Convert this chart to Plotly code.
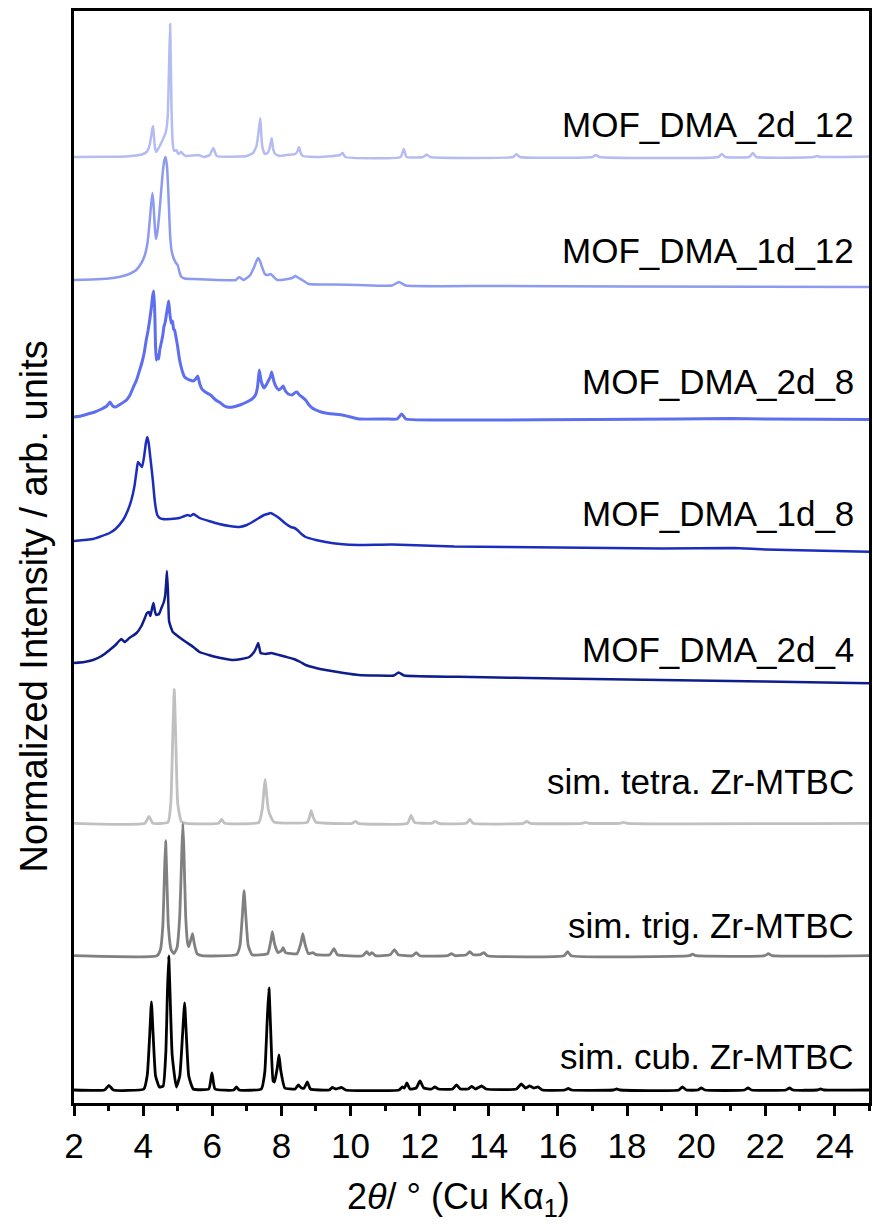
import plotly.graph_objects as go

# (2θ in degrees, intensity in arb. units above the pattern's own zero)
pat_2d_12 = [
    (2.0, 0), (3.0, 0.3), (3.5, 0.5), (3.8, 1.5), (4.0, 3), (4.1, 5), (4.15, 8),
    (4.20, 14), (4.23, 20), (4.26, 27), (4.29, 31), (4.31, 22), (4.34, 10),
    (4.38, 5), (4.45, 9), (4.55, 16), (4.65, 24), (4.71, 40), (4.75, 90),
    (4.78, 133), (4.80, 95), (4.82, 50), (4.86, 12), (4.90, 6), (4.96, 7),
    (5.02, 3), (5.10, 5), (5.18, 2), (5.25, 1), (5.60, 2), (5.75, 0),
    (5.93, 2), (6.03, 9), (6.13, 1), (6.80, 0.5), (7.00, 1), (7.18, 4),
    (7.28, 11), (7.34, 25), (7.39, 39), (7.42, 22), (7.45, 10), (7.52, 3),
    (7.60, 4), (7.66, 9), (7.72, 19), (7.76, 8), (7.82, 3), (7.95, 1),
    (8.15, 2), (8.40, 3), (8.47, 6), (8.51, 10), (8.56, 4), (8.62, 1),
    (9.10, 0), (9.70, 2), (9.77, 4), (9.85, 0), (11.45, 0), (11.54, 8),
    (11.62, 0), (12.10, 0), (12.20, 2.5), (12.30, 0), (14.70, 0), (14.80, 3),
    (14.90, 0), (17.00, 0), (17.10, 2), (17.20, 0), (20.64, 0), (20.74, 3),
    (20.84, 0), (21.54, 0), (21.64, 4), (21.74, 0), (23.40, 0), (23.50, 1),
    (23.60, 0), (25.0, 0.5),
]

pat_1d_12 = [
    (2.0, 0), (2.5, 0.5), (3.0, 1.5), (3.3, 3), (3.6, 6), (3.8, 10),
    (3.95, 17), (4.05, 25), (4.13, 38), (4.18, 55), (4.23, 75), (4.27, 87),
    (4.30, 76), (4.34, 52), (4.37, 41), (4.42, 50), (4.47, 67), (4.52, 88),
    (4.56, 105), (4.61, 119), (4.65, 123), (4.69, 114), (4.72, 95),
    (4.75, 70), (4.78, 45), (4.82, 30), (4.88, 22), (4.95, 17), (5.00, 15),
    (5.05, 8), (5.11, 3), (5.20, 1.5), (5.43, 1), (6.68, 0), (6.78, 3),
    (6.90, 0), (7.00, 2), (7.10, 5), (7.20, 12), (7.28, 19), (7.33, 22),
    (7.38, 19), (7.45, 12), (7.52, 6), (7.60, 5), (7.69, 6), (7.78, 3),
    (7.88, 0), (8.10, 0.5), (8.31, 2), (8.41, 4), (8.50, 2), (8.60, 0),
    (8.79, -4), (9.5, -4.5), (10.24, -5), (11.20, -5.5), (11.40, -2),
    (11.60, -5.5), (14.0, -6), (18.0, -6.5), (25.0, -7),
]

pat_2d_8 = [
    (2.0, 0), (2.2, 1), (2.4, 3), (2.6, 5), (2.8, 8), (2.95, 11), (3.04, 15),
    (3.12, 11), (3.20, 10), (3.35, 13), (3.52, 17), (3.62, 22), (3.72, 30),
    (3.81, 37), (3.90, 47), (3.97, 55), (4.03, 64), (4.09, 77), (4.14, 86),
    (4.19, 97), (4.24, 110), (4.28, 122), (4.31, 126), (4.34, 100),
    (4.36, 70), (4.38, 57), (4.42, 62), (4.45, 58), (4.48, 67), (4.53, 75),
    (4.57, 82), (4.60, 90), (4.64, 95), (4.68, 104), (4.71, 110), (4.74, 116),
    (4.77, 104), (4.81, 94), (4.85, 96), (4.88, 88), (4.91, 87), (4.95, 80),
    (5.00, 70), (5.05, 58), (5.10, 50), (5.15, 44), (5.20, 40), (5.28, 38),
    (5.35, 37), (5.45, 36), (5.52, 38), (5.58, 41), (5.64, 33), (5.70, 28),
    (5.80, 25), (5.95, 22), (6.10, 17), (6.24, 14), (6.35, 11), (6.43, 10),
    (6.60, 10), (6.80, 12), (7.00, 15), (7.15, 18), (7.25, 22), (7.31, 30),
    (7.36, 47), (7.42, 35), (7.50, 29), (7.56, 32), (7.62, 36), (7.68, 40),
    (7.72, 45), (7.78, 36), (7.85, 30), (7.93, 27), (8.00, 29), (8.05, 31),
    (8.12, 26), (8.20, 23), (8.31, 22), (8.38, 24), (8.45, 25), (8.52, 22),
    (8.60, 20), (8.70, 17), (8.80, 12), (8.89, 9), (9.00, 7), (9.15, 5),
    (9.28, 4), (9.50, 3), (9.77, 2), (10.0, 0), (10.24, -2), (11.0, -2),
    (11.35, -2), (11.48, 3), (11.60, -2), (12.5, -3), (14.0, -3),
    (17.0, -2.5), (19.5, -2), (21.0, -1.5), (22.0, -2), (25.0, -2.5),
]

pat_1d_8 = [
    (2.0, 0), (2.55, 2), (3.03, 8), (3.20, 12), (3.42, 21), (3.55, 30),
    (3.66, 41), (3.75, 55), (3.81, 70), (3.85, 79), (3.90, 77), (3.97, 74),
    (4.03, 85), (4.08, 98), (4.12, 104), (4.16, 98), (4.22, 80), (4.28, 61),
    (4.33, 42), (4.37, 32), (4.41, 26), (4.48, 23), (4.57, 22), (4.80, 22),
    (5.05, 23), (5.20, 25), (5.29, 26), (5.37, 25), (5.46, 27), (5.55, 25),
    (5.63, 23), (5.90, 20), (6.20, 17), (6.50, 15), (6.78, 14), (7.00, 16),
    (7.16, 19), (7.35, 23), (7.50, 26), (7.60, 27), (7.69, 28), (7.80, 26),
    (7.93, 23), (8.10, 18), (8.27, 14), (8.38, 13), (8.46, 11), (8.58, 7),
    (8.70, 4), (9.00, 1), (9.28, -1), (9.70, -3), (10.24, -4), (11.20, -3.5),
    (13.0, -5.5), (16.0, -6.5), (19.0, -7.5), (21.08, -7), (22.0, -8.5),
    (25.0, -10.7),
]

pat_2d_4 = [
    (2.0, 0), (2.3, 1), (2.55, 3), (2.8, 7), (3.03, 13), (3.20, 18),
    (3.37, 24), (3.47, 21), (3.60, 25), (3.81, 30), (3.95, 37), (4.05, 45),
    (4.11, 50), (4.17, 51), (4.21, 47), (4.26, 55), (4.30, 60), (4.34, 52),
    (4.38, 48), (4.46, 49), (4.53, 55), (4.60, 61), (4.64, 68), (4.67, 82),
    (4.69, 92), (4.72, 70), (4.75, 42), (4.80, 36), (4.86, 31), (5.00, 27),
    (5.24, 21), (5.45, 16), (5.63, 11), (5.90, 8), (6.11, 6), (6.40, 4),
    (6.59, 3), (6.85, 4), (7.07, 6), (7.21, 11), (7.27, 15), (7.33, 20),
    (7.37, 14), (7.40, 10), (7.55, 9), (7.71, 10), (7.93, 8), (8.15, 6),
    (8.36, 4), (8.55, 1), (8.70, -2), (9.00, -5), (9.28, -7), (9.80, -10),
    (10.24, -12), (11.25, -12.5), (11.39, -9.5), (11.55, -12.5),
    (13.5, -14), (16.0, -15.5), (19.0, -17), (22.0, -18.5), (25.0, -20.3),
]

pat_tetra = [
    (2.0, 0), (4.05, 0), (4.17, 7), (4.28, 0), (4.72, 1), (4.80, 20),
    (4.86, 90), (4.90, 134), (4.94, 90), (5.00, 20), (5.10, 2), (5.25, 0),
    (6.18, 0), (6.27, 4), (6.36, 0), (7.35, 1), (7.45, 15), (7.50, 35),
    (7.53, 44), (7.57, 30), (7.62, 14), (7.70, 6), (7.80, 1), (8.75, 1),
    (8.81, 6), (8.86, 12.6), (8.92, 6), (9.00, 1), (10.05, 0), (10.14, 2),
    (10.22, 0), (11.65, 0), (11.75, 8), (11.85, 1), (12.35, 0), (12.45, 2),
    (12.55, 0), (13.35, 0), (13.45, 4), (13.55, 0), (15.0, 0), (15.1, 2),
    (15.2, 0), (16.7, 0), (16.8, 1), (16.9, 0), (17.8, 0), (17.9, 1),
    (18.0, 0), (25.0, 0),
]

pat_trig = [
    (2.0, 0), (4.40, 0), (4.50, 6), (4.57, 30), (4.62, 85), (4.65, 115),
    (4.68, 85), (4.73, 30), (4.81, 6), (4.89, 2), (4.98, 8), (5.06, 40),
    (5.12, 105), (5.15, 132), (5.18, 105), (5.23, 40), (5.29, 12), (5.32, 9),
    (5.38, 16), (5.43, 22), (5.48, 12), (5.56, 2), (5.70, 0), (6.70, 1),
    (6.80, 10), (6.87, 40), (6.92, 65), (6.97, 40), (7.04, 10), (7.15, 1),
    (7.60, 2), (7.69, 14), (7.74, 24), (7.80, 12), (7.90, 3), (8.00, 5),
    (8.05, 8), (8.12, 3), (8.45, 2), (8.56, 12), (8.62, 22), (8.68, 12),
    (8.78, 2), (8.91, 3), (9.00, 1), (9.40, 1), (9.52, 7), (9.62, 1),
    (10.35, 0), (10.47, 4), (10.55, 1), (10.62, 3), (10.72, 0), (11.15, 1),
    (11.27, 6), (11.38, 1), (11.80, 0), (11.90, 3), (12.00, 0), (12.80, 0),
    (12.92, 2), (13.02, 0), (13.35, 1), (13.45, 4), (13.55, 1), (13.75, 1),
    (13.86, 3), (13.96, 0), (16.18, 0), (16.28, 4), (16.38, 0), (19.8, 0),
    (19.9, 1.5), (20.0, 0), (21.98, 0), (22.09, 2), (22.2, 0), (25.0, 0),
]

pat_cub = [
    (2.0, 0), (2.88, 0), (3.01, 4.5), (3.14, 0), (4.02, 1), (4.12, 15),
    (4.19, 55), (4.24, 88), (4.29, 55), (4.36, 14), (4.47, 3), (4.58, 4),
    (4.66, 40), (4.70, 95), (4.74, 134), (4.78, 95), (4.84, 35), (4.96, 3),
    (5.06, 14), (5.14, 55), (5.20, 87), (5.25, 55), (5.32, 14), (5.45, 1),
    (5.90, 1), (5.99, 17), (6.08, 1), (6.62, 0), (6.70, 3), (6.78, 0),
    (7.42, 1), (7.52, 18), (7.59, 70), (7.64, 102), (7.69, 60), (7.76, 9),
    (7.80, 8), (7.88, 22), (7.93, 35), (7.98, 20), (8.10, 2), (8.40, 1),
    (8.49, 5), (8.58, 2), (8.66, 2), (8.75, 8), (8.84, 1), (9.38, 0),
    (9.47, 2.5), (9.58, 1), (9.74, 2.5), (9.86, 0), (11.40, 0), (11.50, 3),
    (11.56, 2), (11.63, 7), (11.72, 1), (11.90, 2), (12.01, 9), (12.12, 2),
    (12.35, 1), (12.44, 3), (12.54, 1), (12.95, 1), (13.07, 5), (13.18, 1),
    (13.40, 1), (13.50, 3.5), (13.62, 1), (13.79, 4), (13.92, 1), (14.80, 1),
    (14.94, 6), (15.06, 2), (15.18, 4), (15.30, 2), (15.42, 3), (15.55, 0),
    (16.20, 0), (16.30, 1.5), (16.40, 0), (17.60, 0), (17.70, 1), (17.80, 0),
    (19.50, 0), (19.60, 3), (19.72, 0), (20.05, 0), (20.15, 2), (20.25, 0),
    (21.40, 0), (21.50, 2), (21.60, 0), (22.60, 0), (22.70, 2), (22.80, 0),
    (23.50, 0), (23.60, 1), (23.70, 0), (25.0, 0),
]

patterns = [pat_2d_12, pat_1d_12, pat_2d_8, pat_1d_8, pat_2d_4,
            pat_tetra, pat_trig, pat_cub]
names = ["MOF_DMA_2d_12", "MOF_DMA_1d_12", "MOF_DMA_2d_8", "MOF_DMA_1d_8",
         "MOF_DMA_2d_4", "sim. tetra. Zr-MTBC", "sim. trig. Zr-MTBC",
         "sim. cub. Zr-MTBC"]
# vertical stacking of the patterns (arb. units)
stack_offsets = [946, 823, 686, 562, 440, 279.7, 147.3, 13]
label_y = [979, 853, 722, 590, 454, 322, 178, 47]

colors = ["#b4bcf1", "#8c9af0", "#5d6eee", "#1c2dbd", "#0f1d8c",
          "#c0c0c0", "#808080", "#000000"]
widths = [2.5, 2.5, 3, 2.5, 2.5, 2.8, 2.8, 2.8]

FONT = "Liberation Sans, Arial, Helvetica, sans-serif"

fig = go.Figure()
for pat, off, col, w, nm in zip(patterns, stack_offsets, colors, widths, names):
    xs = [p[0] for p in pat]
    ys = [p[1] + off for p in pat]
    fig.add_trace(go.Scatter(x=xs, y=ys, mode="lines", name=nm,
                             line=dict(color=col, width=w, shape="spline",
                                       smoothing=0.4),
                             showlegend=False))

for nm, yy in zip(names, label_y):
    fig.add_annotation(x=24.63, y=yy, xref="x", yref="y", text=nm,
                       showarrow=False, xanchor="right", yanchor="middle",
                       font=dict(family=FONT, size=35, color="#000000"))

# axis titles
fig.add_annotation(x=-0.05, y=0.455, xref="paper", yref="paper",
                   text="Normalized Intensity / arb. units", textangle=-90,
                   showarrow=False, xanchor="center", yanchor="middle",
                   font=dict(family=FONT, size=38, color="#000000"))
fig.add_annotation(x=0.484, y=-0.088, xref="paper", yref="paper",
                   text="2<i>θ</i>/ ° (Cu Kα<sub>1</sub>)",
                   showarrow=False, xanchor="center", yanchor="middle",
                   font=dict(family=FONT, size=36, color="#000000"))

fig.update_xaxes(range=[2, 25], tick0=2, dtick=2, ticks="outside", ticklen=10,
                 tickwidth=2.5, tickcolor="#000000", showline=True,
                 linewidth=2.5, linecolor="#000000", mirror=True,
                 showgrid=False, zeroline=False,
                 tickfont=dict(family=FONT, size=35, color="#000000"),
                 minor=dict(dtick=1, tick0=2, ticks="outside", ticklen=5,
                            tickwidth=2.5, tickcolor="#000000", showgrid=False))
fig.update_yaxes(range=[0, 1092], showticklabels=False, ticks="",
                 showline=True, linewidth=2.5, linecolor="#000000",
                 mirror=True, showgrid=False, zeroline=False)

fig.update_layout(width=873, height=1226,
                  margin=dict(l=74, r=1, t=11, b=123),
                  paper_bgcolor="#ffffff", plot_bgcolor="#ffffff")

fig.write_html("out.html")
